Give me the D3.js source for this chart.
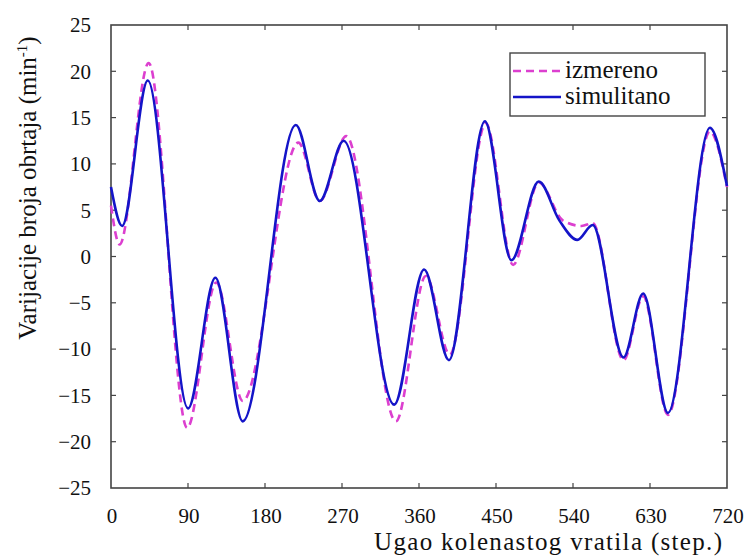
<!DOCTYPE html>
<html lang="sr">
<head>
<meta charset="UTF-8">
<title>Varijacije broja obrtaja</title>
<script src="https://cdn.jsdelivr.net/npm/d3@7/dist/d3.min.js"></script>
<style>
    body { margin: 0; background: #fff; }
    svg text { font-family: "Liberation Serif", "Times New Roman", Times, "DejaVu Serif", serif; fill: #111; }
    .frame line { stroke: #444; }
</style>
</head>
<body>
<svg width="748" height="556"></svg>
<script>
    // angle (deg) and speed variation (min^-1)
    const simAngle = [0, 13, 43, 90, 122, 154, 216, 244, 272, 331, 366, 395, 437, 468, 500, 524, 545, 563, 599, 622, 651, 700, 720];
    const simValue = [7.5, 3.3, 19.0, -16.4, -2.3, -17.8, 14.2, 6.0, 12.5, -16.0, -1.4, -11.2, 14.6, -0.4, 8.1, 3.9, 1.8, 3.4, -10.9, -4.0, -16.9, 13.9, 7.6];

    const measAngle = [0, 10, 44, 89, 123, 154, 219, 244, 275, 333, 368, 396, 438, 470, 500, 528, 550, 563, 599, 622, 651, 700, 720];
    const measValue = [5.5, 1.3, 20.9, -18.5, -2.8, -15.6, 12.3, 6.0, 13.0, -17.8, -2.1, -10.6, 14.4, -0.9, 8.0, 3.9, 3.3, 3.6, -11.2, -4.3, -17.1, 13.5, 7.5];

    const xTicks = [0, 90, 180, 270, 360, 450, 540, 630, 720];
    const yTicks = [25, 20, 15, 10, 5, 0, -5, -10, -15, -20, -25];

    const seriesNames = ["izmereno", "simulitano"];

    const m = { left: 111, right: 727, top: 25, bottom: 488 };
    const serif = '"Liberation Serif", "Times New Roman", Times, "DejaVu Serif", serif';

    const svg = d3.select("svg");

    const x = d3.scaleLinear().domain([0, 720]).range([m.left, m.right]);
    const y = d3.scaleLinear().domain([-25, 25]).range([m.bottom, m.top]);

    // frame with inward ticks on every side
    const frame = svg.append("g").attr("class", "frame");
    frame.append("rect")
        .attr("x", m.left).attr("y", m.top)
        .attr("width", m.right - m.left).attr("height", m.bottom - m.top)
        .attr("fill", "none").attr("stroke", "#444").attr("stroke-width", 1.6);

    const tickLen = 5;
    frame.selectAll(".tb").data(xTicks.slice(1, -1)).enter().append("line")
        .attr("x1", d => x(d)).attr("x2", d => x(d))
        .attr("y1", m.bottom).attr("y2", m.bottom - tickLen)
        .attr("stroke-width", 1.2);
    frame.selectAll(".tt").data(xTicks.slice(1, -1)).enter().append("line")
        .attr("x1", d => x(d)).attr("x2", d => x(d))
        .attr("y1", m.top).attr("y2", m.top + tickLen)
        .attr("stroke-width", 1.2);
    frame.selectAll(".tl").data(yTicks.slice(1, -1)).enter().append("line")
        .attr("x1", m.left).attr("x2", m.left + tickLen)
        .attr("y1", d => y(d)).attr("y2", d => y(d))
        .attr("stroke-width", 1.2);
    frame.selectAll(".tr").data(yTicks.slice(1, -1)).enter().append("line")
        .attr("x1", m.right).attr("x2", m.right - tickLen)
        .attr("y1", d => y(d)).attr("y2", d => y(d))
        .attr("stroke-width", 1.2);

    const fmt = d3.format("d");

    svg.append("g").selectAll("text").data(xTicks).enter().append("text")
        .attr("x", d => x(d) + 1)
        .attr("y", 523)
        .attr("text-anchor", "middle")
        .attr("font-family", serif)
        .style("font-size", "21px")
        .text(d => fmt(d));

    svg.append("g").selectAll("text").data(yTicks).enter().append("text")
        .attr("x", 91)
        .attr("y", d => y(d))
        .attr("dy", "0.35em")
        .attr("text-anchor", "end")
        .attr("font-family", serif)
        .style("font-size", "21px")
        .text(d => fmt(d));

    // axis titles
    svg.append("text")
        .attr("x", 548).attr("y", 550)
        .attr("text-anchor", "middle")
        .attr("font-family", serif)
        .attr("textLength", 348)
        .attr("lengthAdjust", "spacing")
        .style("font-size", "25px")
        .text("Ugao kolenastog vratila (step.)");

    const yl = svg.append("text")
        .attr("transform", "translate(36,188) rotate(-90)")
        .attr("text-anchor", "middle")
        .attr("font-family", serif)
        .style("font-size", "25px");
    yl.append("tspan").text("Varijacije broja obrtaja (min");
    yl.append("tspan").attr("dy", -9).style("font-size", "15px").text("-1");
    yl.append("tspan").attr("dy", 9).text(")");

    // curves
    const meas = measAngle.map((a, i) => [a, measValue[i]]);
    const sim = simAngle.map((a, i) => [a, simValue[i]]);

    const line = d3.line()
        .x(d => x(d[0]))
        .y(d => y(d[1]))
        .curve(d3.curveMonotoneX);

    svg.append("path")
        .datum(meas)
        .attr("d", line)
        .attr("fill", "none")
        .attr("stroke", "#dc3fcf")
        .attr("stroke-width", 2.6)
        .attr("stroke-dasharray", "8,5");

    svg.append("path")
        .datum(sim)
        .attr("d", line)
        .attr("fill", "none")
        .attr("stroke", "#1414c8")
        .attr("stroke-width", 2.6);

    // legend
    const lg = svg.append("g");
    lg.append("rect")
        .attr("x", 510).attr("y", 53)
        .attr("width", 195).attr("height", 63)
        .attr("fill", "#fff").attr("stroke", "#444").attr("stroke-width", 1.4);
    lg.append("line")
        .attr("x1", 513).attr("x2", 563).attr("y1", 71).attr("y2", 71)
        .attr("stroke", "#dc3fcf").attr("stroke-width", 2.6)
        .attr("stroke-dasharray", "8,5");
    lg.append("line")
        .attr("x1", 513).attr("x2", 561).attr("y1", 97).attr("y2", 97)
        .attr("stroke", "#1414c8").attr("stroke-width", 2.6);
    lg.selectAll(".lt").data(seriesNames).enter().append("text")
        .attr("x", 565)
        .attr("y", (d, i) => i === 0 ? 78 : 104)
        .attr("font-family", serif)
        .style("font-size", "25px")
        .text(d => d);
</script>
</body>
</html>
